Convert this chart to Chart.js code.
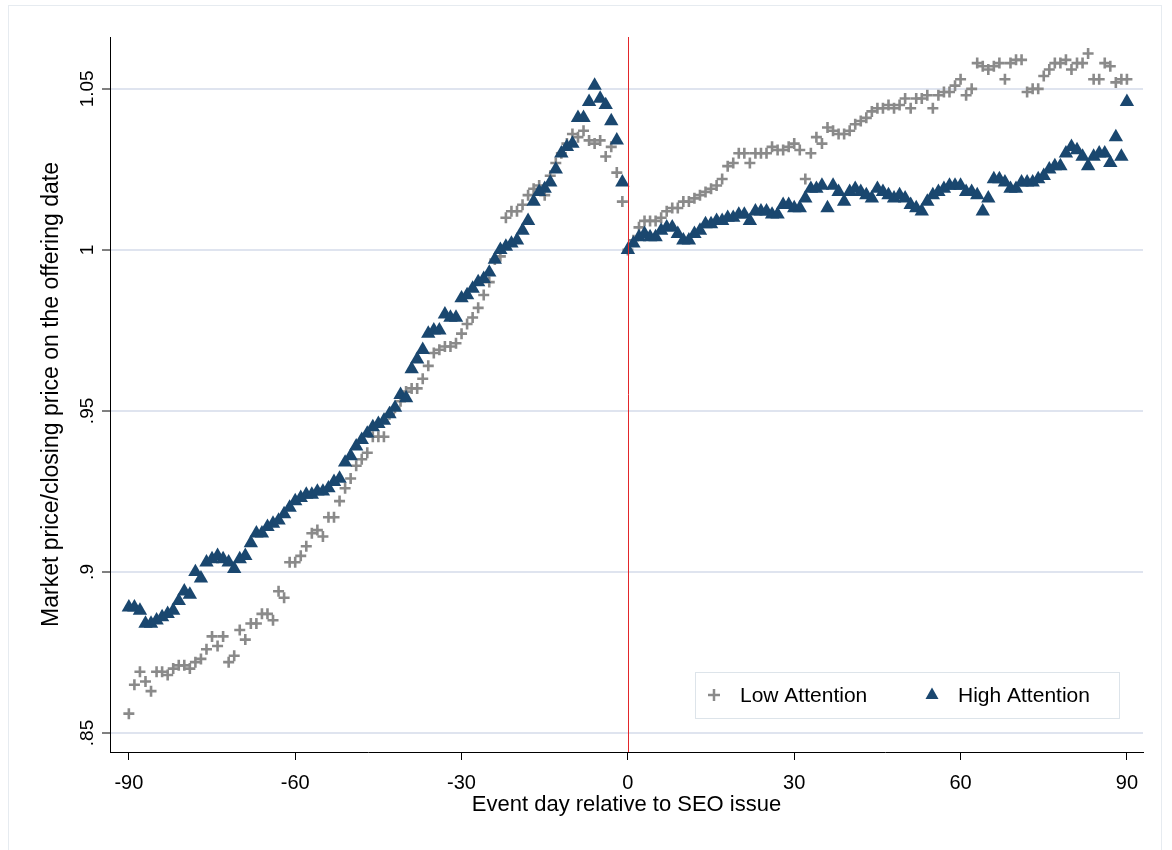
<!DOCTYPE html>
<html>
<head>
<meta charset="utf-8">
<script src="https://cdn.jsdelivr.net/npm/chart.js@4.4.1/dist/chart.umd.min.js"></script>
<style>
  html, body { margin: 0; padding: 0; background: #fff; }
  #wrap { position: relative; width: 1172px; height: 850px; }
</style>
</head>
<body>
<div id="wrap"><canvas id="chart" width="1172" height="850"></canvas></div>
<script>
// event days -90 .. 90
const days = Array.from({ length: 181 }, (_, i) => i - 90);

const lowAttention = [
    0.856, 0.865, 0.869, 0.866, 0.863, 0.869, 0.869, 0.868, 0.870, 0.871,
    0.871, 0.870, 0.872, 0.873, 0.876, 0.880, 0.877, 0.880, 0.872, 0.874,
    0.882, 0.879, 0.884, 0.884, 0.887, 0.887, 0.885, 0.894, 0.892, 0.903,
    0.903, 0.905, 0.908, 0.912, 0.913, 0.911, 0.917, 0.917, 0.922, 0.926,
    0.929, 0.933, 0.935, 0.937, 0.942, 0.942, 0.942, 0.949, 0.951, 0.953,
    0.956, 0.957, 0.957, 0.960, 0.964, 0.968, 0.969, 0.970, 0.970, 0.971,
    0.974, 0.977, 0.979, 0.982, 0.986, 0.990, 0.997, 0.998, 1.010, 1.012,
    1.012, 1.014, 1.017, 1.019, 1.020, 1.017, 1.023, 1.027, 1.030, 1.033,
    1.036, 1.035, 1.037, 1.034, 1.033, 1.034, 1.029, 1.032, 1.024, 1.015,
    1.000,
    1.003, 1.007, 1.009, 1.009, 1.009, 1.010, 1.012, 1.013, 1.013, 1.015,
    1.015, 1.016, 1.017, 1.018, 1.019, 1.020, 1.022, 1.026, 1.027, 1.030,
    1.030, 1.027, 1.030, 1.030, 1.030, 1.032, 1.031, 1.031, 1.032, 1.033,
    1.031, 1.022, 1.030, 1.035, 1.033, 1.038, 1.037, 1.036, 1.036, 1.037,
    1.039, 1.040, 1.041, 1.043, 1.044, 1.044, 1.045, 1.044, 1.045, 1.047,
    1.044, 1.047, 1.047, 1.048, 1.044, 1.048, 1.049, 1.049, 1.051, 1.053,
    1.048, 1.050, 1.058, 1.057, 1.056, 1.057, 1.058, 1.053, 1.058, 1.059,
    1.059, 1.049, 1.050, 1.050, 1.054, 1.056, 1.058, 1.058, 1.059, 1.056,
    1.058, 1.058, 1.061, 1.053, 1.053, 1.058, 1.057, 1.052, 1.053, 1.053,
];

const highAttention = [
    0.889, 0.889, 0.888, 0.884, 0.884, 0.885, 0.886, 0.887, 0.888, 0.891,
    0.894, 0.893, 0.900, 0.898, 0.903, 0.904, 0.905, 0.904, 0.903, 0.901,
    0.904, 0.905, 0.909, 0.912, 0.912, 0.914, 0.915, 0.916, 0.918, 0.920,
    0.922, 0.923, 0.924, 0.924, 0.925, 0.925, 0.926, 0.928, 0.929, 0.934,
    0.936, 0.939, 0.941, 0.943, 0.945, 0.946, 0.947, 0.949, 0.951, 0.955,
    0.954, 0.963, 0.966, 0.969, 0.974, 0.975, 0.975, 0.980, 0.979, 0.979,
    0.985, 0.986, 0.988, 0.990, 0.991, 0.993, 0.997, 1.000, 1.001, 1.002,
    1.003, 1.006, 1.009, 1.015, 1.018, 1.019, 1.021, 1.025, 1.030, 1.032,
    1.033, 1.041, 1.041, 1.046, 1.051, 1.047, 1.045, 1.040, 1.034, 1.021,
    1.000,
    1.002, 1.004, 1.005, 1.004, 1.004, 1.006, 1.007, 1.007, 1.005, 1.003,
    1.003, 1.005, 1.006, 1.008, 1.008, 1.009, 1.009, 1.010, 1.010, 1.011,
    1.011, 1.009, 1.012, 1.012, 1.012, 1.011, 1.011, 1.014, 1.014, 1.013,
    1.013, 1.016, 1.019, 1.019, 1.020, 1.013, 1.020, 1.018, 1.015, 1.018,
    1.019, 1.018, 1.017, 1.016, 1.019, 1.018, 1.017, 1.016, 1.017, 1.016,
    1.014, 1.013, 1.012, 1.015, 1.017, 1.018, 1.019, 1.020, 1.020, 1.020,
    1.018, 1.018, 1.017, 1.012, 1.016, 1.022, 1.022, 1.021, 1.019, 1.019,
    1.021, 1.021, 1.021, 1.022, 1.023, 1.025, 1.026, 1.026, 1.030, 1.032,
    1.031, 1.029, 1.026, 1.029, 1.030, 1.030, 1.027, 1.035, 1.029, 1.046,
];

const xTicks = [-90, -60, -30, 0, 30, 60, 90];
const yTicks = [0.85, 0.9, 0.95, 1, 1.05];
const yTickLabels = ['.85', '.9', '.95', '1', '1.05'];

const NAVY = '#1a476f';
const GRAY = '#8a8a8a';
const FONT = "'Liberation Sans', Arial, sans-serif";

const pts = (vals) => days.map((d, i) => ({ x: d, y: vals[i] }));

// white background + faint outer frame
const framePlugin = {
    id: 'frame',
    beforeDraw(chart) {
        const ctx = chart.ctx;
        ctx.save();
        ctx.fillStyle = '#fff';
        ctx.fillRect(0, 0, chart.width, chart.height);
        ctx.strokeStyle = '#e6ebf0';
        ctx.lineWidth = 1;
        ctx.strokeRect(8.5, 5.5, 1153, 850);
        ctx.restore();
    },
};

// vertical red line at the offering date
const eventLine = {
    id: 'eventLine',
    afterDatasetsDraw(chart) {
        const { ctx, chartArea, scales } = chart;
        const x = Math.round(scales.x.getPixelForValue(0)) + 0.5;
        ctx.save();
        ctx.strokeStyle = '#e3262a';
        ctx.lineWidth = 1;
        ctx.beginPath();
        ctx.moveTo(x, chartArea.top);
        ctx.lineTo(x, chartArea.bottom);
        ctx.stroke();
        ctx.restore();
    },
};

// Stata style rotated y tick labels + in-plot legend
const extras = {
    id: 'extras',
    afterDraw(chart) {
        const { ctx, chartArea, scales } = chart;
        ctx.save();
        ctx.fillStyle = '#000';
        ctx.font = `19px ${FONT}`;
        ctx.textAlign = 'center';
        ctx.textBaseline = 'middle';
        yTicks.forEach((v, i) => {
            const y = scales.y.getPixelForValue(v);
            ctx.save();
            ctx.translate(chartArea.left - 22, y);
            ctx.rotate(-Math.PI / 2);
            ctx.fillText(yTickLabels[i], 0, 0);
            ctx.restore();
        });

        // legend box
        const bx = chartArea.right - 448, by = chartArea.bottom - 80, bw = 424, bh = 46;
        ctx.strokeStyle = '#dde4ea';
        ctx.lineWidth = 1;
        ctx.strokeRect(bx + 0.5, by + 0.5, bw, bh);
        const cy = by + bh / 2;

        ctx.strokeStyle = GRAY;
        ctx.lineWidth = 2.5;
        ctx.beginPath();
        ctx.moveTo(bx + 13, cy); ctx.lineTo(bx + 25, cy);
        ctx.moveTo(bx + 19, cy - 6); ctx.lineTo(bx + 19, cy + 6);
        ctx.stroke();

        ctx.fillStyle = NAVY;
        const tx = bx + 237;
        ctx.beginPath();
        ctx.moveTo(tx, cy - 7.5);
        ctx.lineTo(tx + 6.5, cy + 4);
        ctx.lineTo(tx - 6.5, cy + 4);
        ctx.closePath();
        ctx.fill();

        ctx.fillStyle = '#000';
        ctx.font = `21px ${FONT}`;
        ctx.textAlign = 'left';
        ctx.fillText('Low Attention', bx + 45, cy + 1);
        ctx.fillText('High Attention', bx + 263, cy + 1);
        ctx.restore();
    },
};

new Chart(document.getElementById('chart'), {
    type: 'scatter',
    data: {
        datasets: [
            {
                label: 'High Attention',
                data: pts(highAttention),
                pointStyle: 'triangle',
                pointRadius: 8.3,
                backgroundColor: NAVY,
                borderColor: NAVY,
                borderWidth: 0,
            },
            {
                label: 'Low Attention',
                data: pts(lowAttention),
                pointStyle: 'cross',
                pointRadius: 5.5,
                borderColor: GRAY,
                backgroundColor: GRAY,
                borderWidth: 2.6,
            },
        ],
    },
    options: {
        responsive: false,
        animation: false,
        devicePixelRatio: 1,
        layout: { padding: { left: 0, right: 29, top: 37, bottom: 0 } },
        plugins: {
            legend: { display: false },
            tooltip: { enabled: false },
        },
        scales: {
            x: {
                type: 'linear',
                min: -93.4,
                max: 92.9,
                afterBuildTicks: (s) => { s.ticks = xTicks.map((v) => ({ value: v })); },
                afterFit: (s) => { s.height = 98; },
                grid: { drawOnChartArea: false, drawTicks: true, tickLength: 8, tickColor: '#000', tickWidth: 1 },
                border: { color: '#000', width: 1 },
                ticks: {
                    color: '#000',
                    font: { family: FONT, size: 20 },
                    padding: 11,
                    maxRotation: 0,
                    autoSkip: false,
                },
                title: {
                    display: true,
                    text: 'Event day relative to SEO issue',
                    color: '#000',
                    font: { family: FONT, size: 22 },
                    padding: { top: 0, bottom: 32 },
                },
            },
            y: {
                type: 'linear',
                min: 0.8441,
                max: 1.0661,
                afterBuildTicks: (s) => { s.ticks = yTicks.map((v) => ({ value: v })); },
                afterFit: (s) => { s.width = 110; },
                grid: { color: '#dfe4ef', lineWidth: 2, drawTicks: true, tickLength: 8, tickColor: '#000', tickWidth: 1 },
                border: { color: '#000', width: 1 },
                ticks: { display: false },
                title: {
                    display: true,
                    text: 'Market price/closing price on the offering date',
                    color: '#000',
                    font: { family: FONT, size: 23 },
                    padding: { top: 38, bottom: 0 },
                },
            },
        },
    },
    plugins: [framePlugin, eventLine, extras],
});
</script>
</body>
</html>
